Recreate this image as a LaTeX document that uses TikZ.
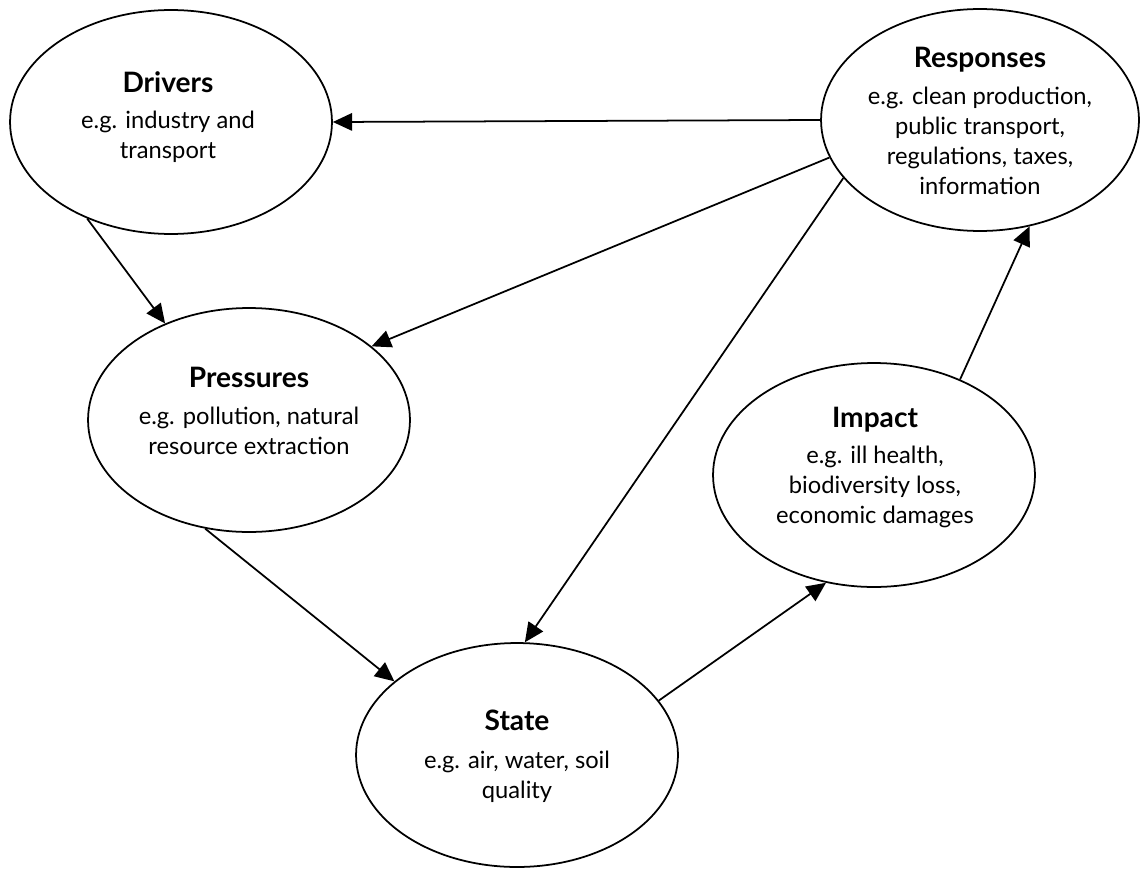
\documentclass[tikz,border=0pt]{standalone}
\usepackage{fontspec}
\setmainfont{Lato}
\usetikzlibrary{shapes.geometric,arrows.meta}
\tikzset{
  box/.style={ellipse, draw, line width=1pt, minimum width=6.44cm, minimum height=4.48cm, inner sep=0pt},
  ttl/.style={inner sep=0pt, font=\fontsize{16}{18}\selectfont\bfseries, text height=11.5pt, text depth=0pt},
  body/.style={inner sep=0pt, align=center, font=\fontsize{13.5}{17.2}\selectfont},
  link/.style={line width=1pt, -{Triangle[length=11pt,width=10pt]}},
}
\begin{document}
\begin{tikzpicture}[x=0.02cm,y=-0.02cm]
\useasboundingbox (0,0) rectangle (1141,868);
\node[box] (drv) at (171,122) {};
\node[box, minimum width=6.36cm, minimum height=4.44cm] (resp) at (980,120) {};
\node[box] (pres) at (249,420) {};
\node[box] (imp) at (874,475) {};
\node[box] (st) at (517,755) {};
\node[ttl] (drvT) at (168,82) {Drivers};
\node[body] (drvB) at (168,137) {e.g. industry and\\transport};
\node[ttl] (respT) at (980,57) {Responses};
\node[body] (respB) at (980,141) {e.g. clean production,\\public transport,\\regulations, taxes,\\information};
\node[ttl] (presT) at (249,377) {Pressures};
\node[body] (presB) at (249,431) {e.g. pollution, natural\\resource extraction};
\node[ttl] (impT) at (875,417) {Impact};
\node[body] (impB) at (875,487) {e.g. ill health,\\biodiversity loss,\\economic damages};
\node[ttl] (stT) at (517,720) {State};
\node[body] (stB) at (517,777) {e.g. air, water, soil\\quality};
\draw[link] (resp.180) -- (drv.0);
\draw[link] (resp.194) -- (pres.31);
\draw[link] (resp.203) -- (st.86);
\draw[link] (drv.229.5) -- (pres.131.6);
\draw[link] (pres.248) -- (st.149);
\draw[link] (st.21.3) -- (imp.246.6);
\draw[link] (imp.48.7) -- (resp.295.8);
\end{tikzpicture}
\end{document}
